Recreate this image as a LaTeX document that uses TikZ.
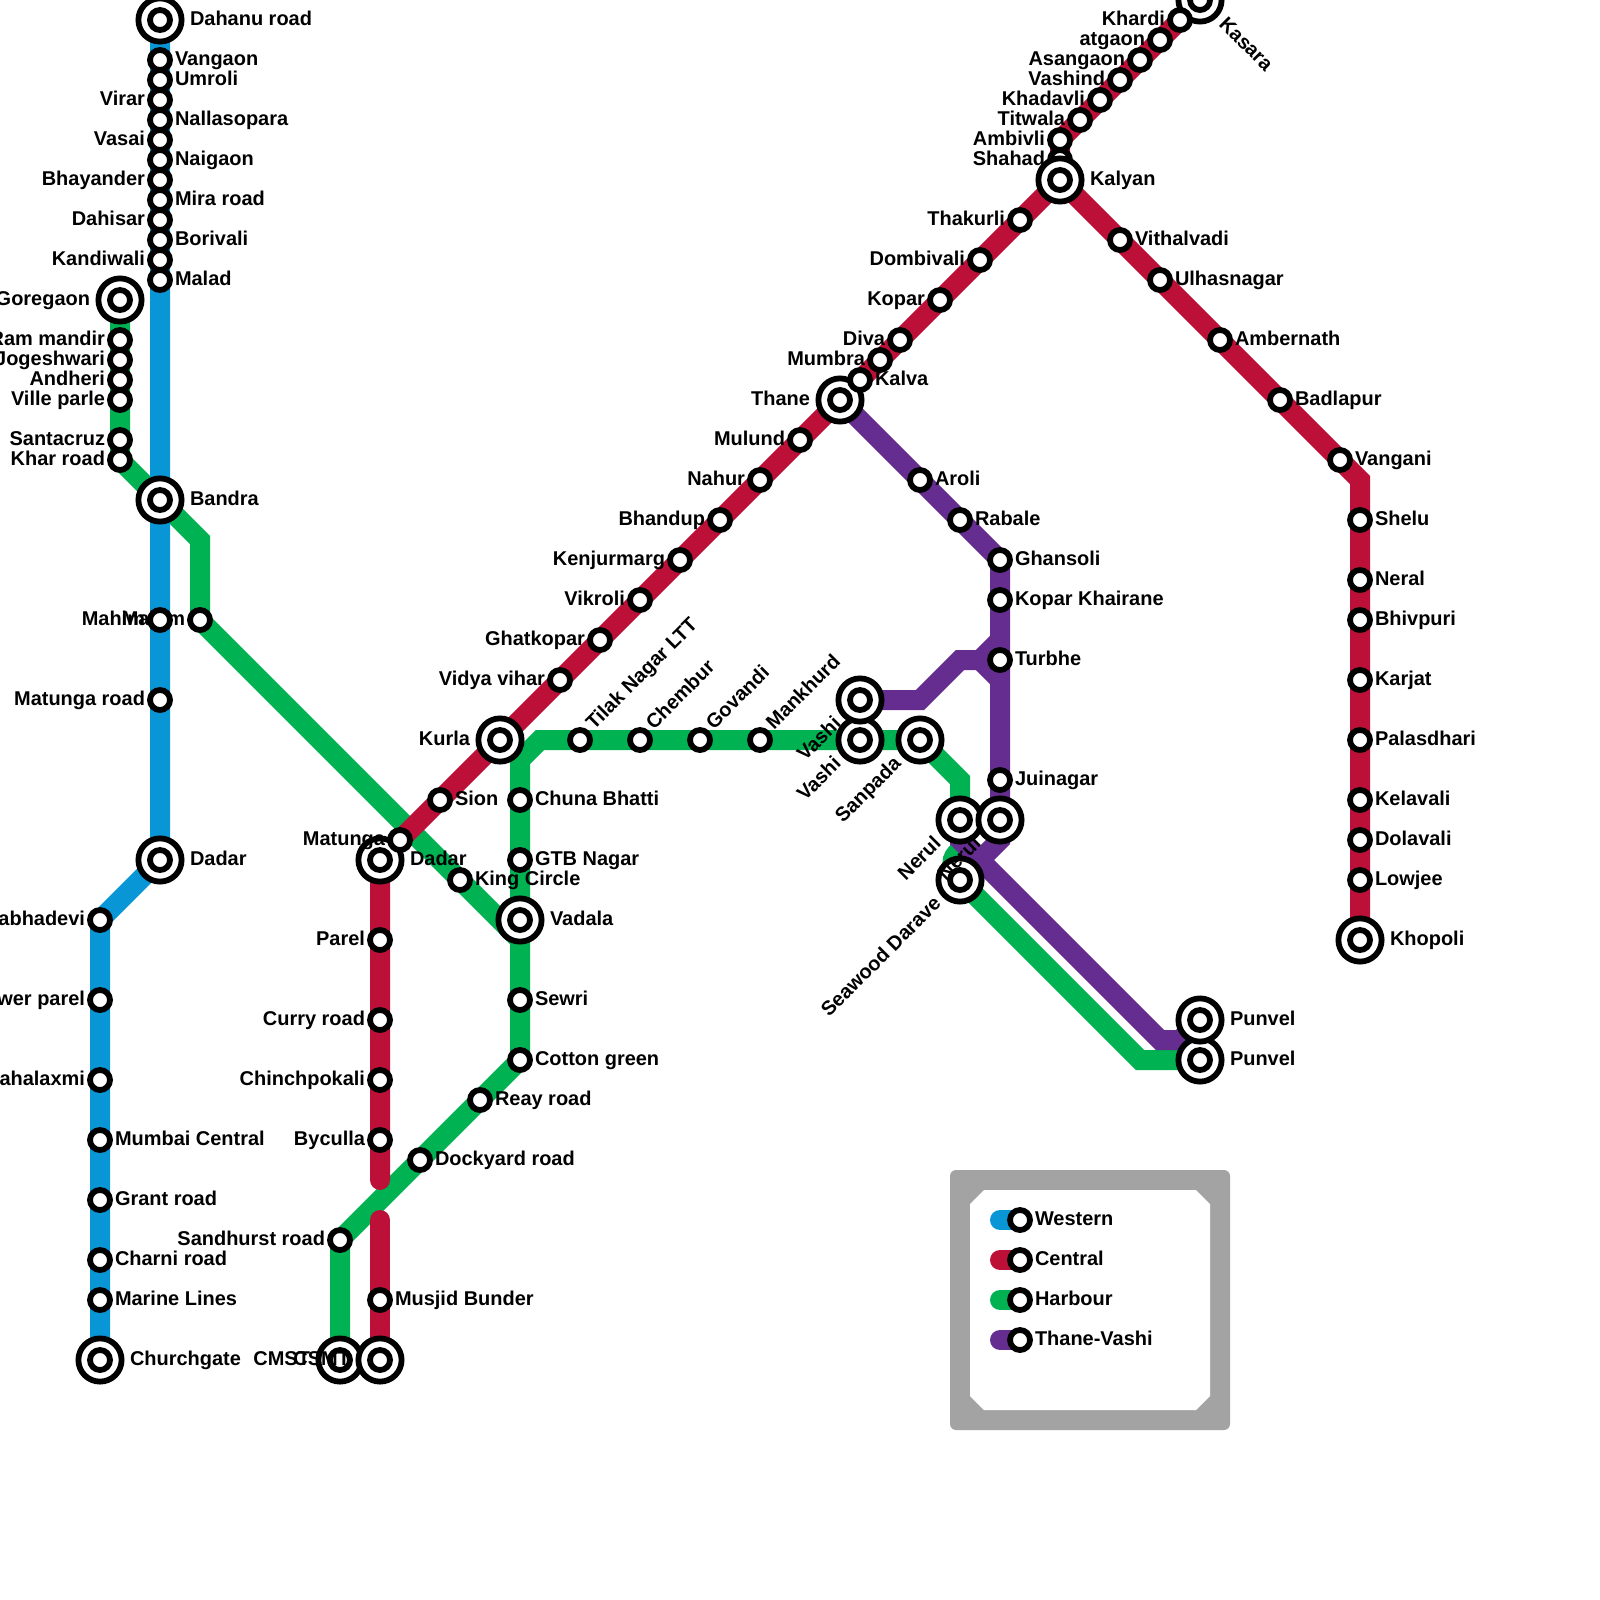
\documentclass[tikz,border=0pt]{standalone}
\usepackage{fontspec}
\setsansfont{Liberation Sans}
\usetikzlibrary{backgrounds}
\definecolor{westernblue}{HTML}{0896D7}
\definecolor{centralred}{HTML}{BD1038}
\definecolor{harbourgreen}{HTML}{00B251}
\definecolor{thanepurple}{HTML}{662D91}
\definecolor{framegray}{HTML}{A3A3A3}
\tikzset{
    map stop/.style={
        circle,
        draw=black,
        fill=white,
        line width=.145cm,
        minimum size=.5cm,
        inner sep=0pt,
        outer sep=0pt
    },
    map hub/.style={
        map stop,
        minimum size=1.08cm,
        label={[map stop, anchor=center]center:{}}
    },
    map tag/.style={font=\sffamily\bfseries\fontsize{14.2}{14.2}\selectfont, inner sep=0pt, outer sep=0pt},
    tag r/.style={append after command={node[map tag, anchor=base west, xshift=.375cm, yshift=-.135cm] at (\tikzlastnode.center) {#1}}},
    tag l/.style={append after command={node[map tag, anchor=base east, xshift=-.375cm, yshift=-.135cm] at (\tikzlastnode.center) {#1}}},
    hub r/.style={append after command={node[map tag, anchor=base west, xshift=.75cm, yshift=-.135cm] at (\tikzlastnode.center) {#1}}},
    hub l/.style={append after command={node[map tag, anchor=base east, xshift=-.75cm, yshift=-.135cm] at (\tikzlastnode.center) {#1}}},
    tag up/.style={append after command={node[map tag, anchor=base west, xshift=.35cm, yshift=.24cm, rotate=45] at (\tikzlastnode.center) {#1}}},
    hub up/.style={append after command={node[map tag, anchor=base east, xshift=-.45cm, yshift=-.625cm, rotate=45] at (\tikzlastnode.center) {#1}}},
    hub down/.style={append after command={node[map tag, anchor=base west, xshift=.45cm, yshift=-.625cm, rotate=-45] at (\tikzlastnode.center) {#1}}},
    map line/.style={line width=.5cm, line cap=round},
    western line/.style={map line, draw=westernblue},
    central line/.style={map line, draw=centralred},
    harbour line/.style={map line, draw=harbourgreen},
    thane line/.style={map line, draw=thanepurple}
}
\begin{document}
\begin{tikzpicture}[x=.5cm, y=-.5cm]
\useasboundingbox (0,0) rectangle (80,80);

% Harbour stops
\node[map hub, hub l=Goregaon] (goregaon) at (6,15) {};
\node[map stop, tag l=Ram mandir] (rammandir) at (6,17) {};
\node[map stop, tag l=Jogeshwari] (jogeshwari) at (6,18) {};
\node[map stop, tag l=Andheri] (andheri) at (6,19) {};
\node[map stop, tag l=Ville parle] (villeparle) at (6,20) {};
\node[map stop, tag l=Santacruz] (santacruz) at (6,22) {};
\node[map stop, tag l=Khar road] (kharroad) at (6,23) {};
\node[map stop, tag l=Mahim] (mahimb) at (10,31) {};
\node[map stop, tag r=King Circle] (kingcircle) at (23,44) {};
\node[map stop, tag up=Tilak Nagar LTT] (tilaknagar) at (29,37) {};
\node[map stop, tag up=Chembur] (chembur) at (32,37) {};
\node[map stop, tag up=Govandi] (govandi) at (35,37) {};
\node[map stop, tag up=Mankhurd] (mankhurd) at (38,37) {};
\node[map hub, hub up=Vashi] (vashib) at (43,37) {};
\node[map hub, hub up=Sanpada] (sanpada) at (46,37) {};
\node[map hub, hub up=Nerul] (nerula) at (48,41) {};
\node[map hub, hub up=Seawood Darave] (seawood) at (48,44) {};
\node[map hub, hub r=Punvel] (punvelb) at (60,53) {};
\node[map stop, tag r=Chuna Bhatti] (chunabhatti) at (26,40) {};
\node[map stop, tag r=GTB Nagar] (gtbnagar) at (26,43) {};
\node[map hub, hub r=Vadala] (vadala) at (26,46) {};
\node[map stop, tag r=Sewri] (sewri) at (26,50) {};
\node[map stop, tag r=Cotton green] (cottongreen) at (26,53) {};
\node[map stop, tag r=Reay road] (reayroad) at (24,55) {};
\node[map stop, tag r=Dockyard road] (dockyard) at (21,58) {};
\node[map stop, tag l=Sandhurst road] (sandhurst) at (17,62) {};
\node[map hub, hub l=CMST] (cmst) at (17,68) {};

% Central stops
\node[map hub, hub down=Kasara] (kasara) at (60,0) {};
\node[map stop, tag l=Khardi] (khardi) at (59,1) {};
\node[map stop, tag l=atgaon] (atgaon) at (58,2) {};
\node[map stop, tag l=Asangaon] (asangaon) at (57,3) {};
\node[map stop, tag l=Vashind] (vashind) at (56,4) {};
\node[map stop, tag l=Khadavli] (khadavli) at (55,5) {};
\node[map stop, tag l=Titwala] (titwala) at (54,6) {};
\node[map stop, tag l=Ambivli] (ambivli) at (53,7) {};
\node[map stop, tag l=Shahad] (shahad) at (53,8) {};
\node[map hub, hub l=CSMT] (csmt) at (19,68) {};
\node[map stop, tag r=Musjid Bunder] (musjid) at (19,65) {};
\node[map stop, tag l=Byculla] (byculla) at (19,57) {};
\node[map stop, tag l=Chinchpokali] (chinchpokali) at (19,54) {};
\node[map stop, tag l=Curry road] (curryroad) at (19,51) {};
\node[map stop, tag l=Parel] (parel) at (19,47) {};
\node[map hub, hub r=Dadar] (dadarb) at (19,43) {};
\node[map stop, tag l=Matunga] (matunga) at (20,42) {};
\node[map stop, tag r=Sion] (sion) at (22,40) {};
\node[map hub, hub l=Kurla] (kurla) at (25,37) {};
\node[map stop, tag l=Vidya vihar] (vidyavihar) at (28,34) {};
\node[map stop, tag l=Ghatkopar] (ghatkopar) at (30,32) {};
\node[map stop, tag l=Vikroli] (vikroli) at (32,30) {};
\node[map stop, tag l=Kenjurmarg] (kenjurmarg) at (34,28) {};
\node[map stop, tag l=Bhandup] (bhandup) at (36,26) {};
\node[map stop, tag l=Nahur] (nahur) at (38,24) {};
\node[map stop, tag l=Mulund] (mulund) at (40,22) {};
\node[map hub, hub l=Thane] (thane) at (42,20) {};
\node[map stop, tag r=Kalva] (kalva) at (43,19) {};
\node[map stop, tag l=Mumbra] (mumbra) at (44,18) {};
\node[map stop, tag l=Diva] (diva) at (45,17) {};
\node[map stop, tag l=Kopar] (kopar) at (47,15) {};
\node[map stop, tag l=Dombivali] (dombivali) at (49,13) {};
\node[map stop, tag l=Thakurli] (thakurli) at (51,11) {};
\node[map hub, hub r=Kalyan] (kalyan) at (53,9) {};
\node[map stop, tag r=Vithalvadi] (vithalvadi) at (56,12) {};
\node[map stop, tag r=Ulhasnagar] (ulhasnagar) at (58,14) {};
\node[map stop, tag r=Ambernath] (ambernath) at (61,17) {};
\node[map stop, tag r=Badlapur] (badlapur) at (64,20) {};
\node[map stop, tag r=Vangani] (vangani) at (67,23) {};
\node[map stop, tag r=Shelu] (shelu) at (68,26) {};
\node[map stop, tag r=Neral] (neral) at (68,29) {};
\node[map stop, tag r=Bhivpuri] (bhivpuri) at (68,31) {};
\node[map stop, tag r=Karjat] (karjat) at (68,34) {};
\node[map stop, tag r=Palasdhari] (palasdhari) at (68,37) {};
\node[map stop, tag r=Kelavali] (kelavali) at (68,40) {};
\node[map stop, tag r=Dolavali] (dolavali) at (68,42) {};
\node[map stop, tag r=Lowjee] (lowjee) at (68,44) {};
\node[map hub, hub r=Khopoli] (khopoli) at (68,47) {};

% Western stops
\node[map hub, hub r=Dahanu road] (dahanu) at (8,1) {};
\node[map stop, tag r=Vangaon] (vangaon) at (8,3) {};
\node[map stop, tag r=Umroli] (umroli) at (8,4) {};
\node[map stop, tag l=Virar] (virar) at (8,5) {};
\node[map stop, tag r=Nallasopara] (nallasopara) at (8,6) {};
\node[map stop, tag l=Vasai] (vasai) at (8,7) {};
\node[map stop, tag r=Naigaon] (naigaon) at (8,8) {};
\node[map stop, tag l=Bhayander] (bhayander) at (8,9) {};
\node[map stop, tag r=Mira road] (miraroad) at (8,10) {};
\node[map stop, tag l=Dahisar] (dahisar) at (8,11) {};
\node[map stop, tag r=Borivali] (borivali) at (8,12) {};
\node[map stop, tag l=Kandiwali] (kandiwali) at (8,13) {};
\node[map stop, tag r=Malad] (malad) at (8,14) {};
\node[map hub, hub r=Bandra] (bandra) at (8,25) {};
\node[map stop, tag l=Mahim] (mahima) at (8,31) {};
\node[map stop, tag l=Matunga road] (matungaroad) at (8,35) {};
\node[map hub, hub r=Dadar] (dadara) at (8,43) {};
\node[map stop, tag l=Prabhadevi] (prabhadevi) at (5,46) {};
\node[map stop, tag l=Lower parel] (lowerparel) at (5,50) {};
\node[map stop, tag l=Mahalaxmi] (mahalaxmi) at (5,54) {};
\node[map stop, tag r=Mumbai Central] (mumbaicentral) at (5,57) {};
\node[map stop, tag r=Grant road] (grantroad) at (5,60) {};
\node[map stop, tag r=Charni road] (charniroad) at (5,63) {};
\node[map stop, tag r=Marine Lines] (marinelines) at (5,65) {};
\node[map hub, hub r=Churchgate] (churchgate) at (5,68) {};

% Thane-Vashi stops
\node[map stop, tag r=Aroli] (aroli) at (46,24) {};
\node[map stop, tag r=Rabale] (rabale) at (48,26) {};
\node[map stop, tag r=Ghansoli] (ghansoli) at (50,28) {};
\node[map stop, tag r=Kopar Khairane] (koparkhairane) at (50,30) {};
\node[map stop, tag r=Turbhe] (turbhe) at (50,33) {};
\node[map stop, tag r=Juinagar] (juinagar) at (50,39) {};
\node[map hub, hub up=Nerul] (nerulb) at (50,41) {};
\node[map hub, hub up=Vashi] (vashia) at (43,35) {};
\node[map hub, hub r=Punvel] (punvela) at (60,51) {};

% Legend
\node[map stop, tag r=Western] (keywestern) at (51,61) {};
\node[map stop, tag r=Central] (keycentral) at (51,63) {};
\node[map stop, tag r=Harbour] (keyharbour) at (51,65) {};
\node[map stop, tag r=Thane-Vashi] (keythane) at (51,67) {};
\coordinate (startwestern) at (50,61);
\coordinate (startcentral) at (50,63);
\coordinate (startharbour) at (50,65);
\coordinate (startthane) at (50,67);

\begin{scope}[on background layer]
% Legend frame
\fill[framegray, rounded corners=.15cm] (47.5,58.5) rectangle (61.5,71.5);
\fill[white] (49.2,59.5) -- (59.8,59.5) -- (60.5,60.2) -- (60.5,69.8) -- (59.8,70.5) -- (49.2,70.5) -- (48.5,69.8) -- (48.5,60.2) -- cycle;

% Lines
\draw[harbour line] (goregaon.center) -- (kharroad.center) -- (bandra.center) -- (10,27) -- (mahimb.center) -- (26,47);
\draw[harbour line] (vashib.center) -- (27,37) -- (26,38) -- (cottongreen.center) -- (sandhurst.center) -- (cmst.center);
\draw[harbour line] (vashib.center) -- (sanpada.center) -- (48,39) -- (nerula.center) -- (48,42.5) .. controls (47.5,42.9) and (47.5,43.3) .. (seawood.center) -- (57,53) -- (punvelb.center);
\draw[harbour line] (startharbour) -- (keyharbour.center);

\draw[central line] (csmt.center) -- (19,61);
\draw[central line] (19,59) -- (dadarb.center) -- (kalyan.center) -- (ambivli.center) -- (kasara.center);
\draw[central line] (kalyan.center) -- (vangani.center) -- (68,24) -- (khopoli.center);
\draw[central line] (startcentral) -- (keycentral.center);

\draw[western line] (dahanu.center) -- (dadara.center) -- (prabhadevi.center) -- (churchgate.center);
\draw[western line] (startwestern) -- (keywestern.center);

\draw[thane line] (thane.center) -- (ghansoli.center) -- (nerulb.center) -- (50,42) -- (49,43);
\draw[thane line] (nerula.center) -- (48,42) -- (58,52) -- (59,52) -- (punvela.center);
\draw[thane line] (vashia.center) -- (46,35) -- (48,33) -- (49,33) -- (50,32);
\draw[thane line] (49,33) -- (50,34);
\draw[thane line] (startthane) -- (keythane.center);
\end{scope}
\end{tikzpicture}
\end{document}
